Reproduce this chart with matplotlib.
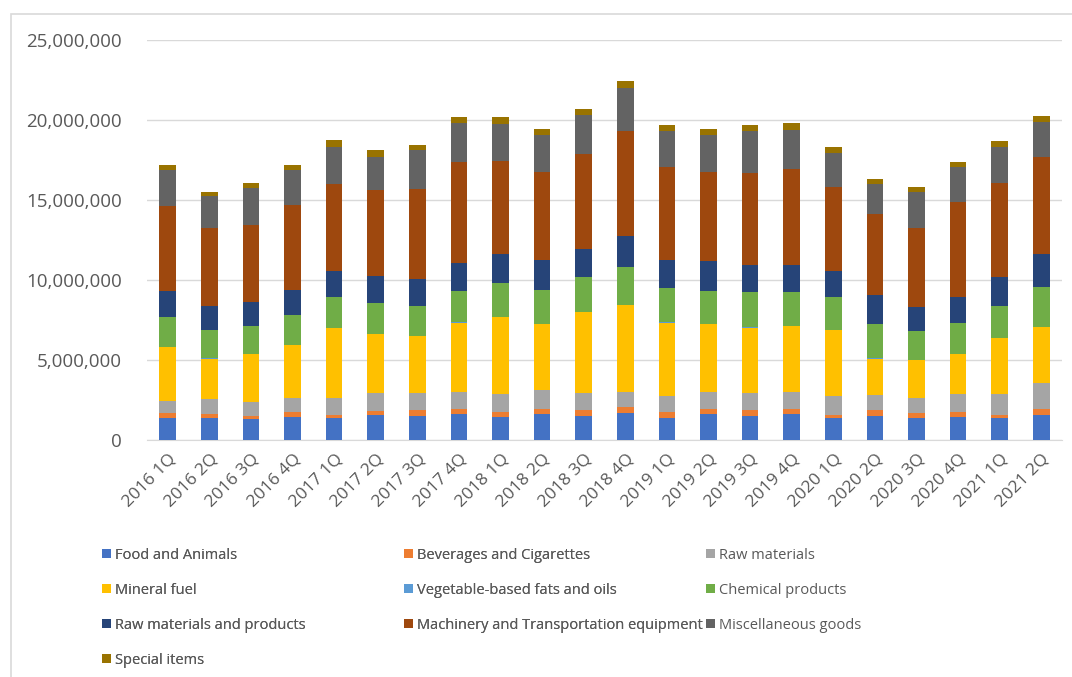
import numpy as np
import matplotlib
matplotlib.use('Agg')
import matplotlib.pyplot as plt
from matplotlib.patches import Rectangle
from matplotlib.ticker import FuncFormatter

# quarterly values, millions
quarters = ['2016 1Q', '2016 2Q', '2016 3Q', '2016 4Q', '2017 1Q', '2017 2Q',
            '2017 3Q', '2017 4Q', '2018 1Q', '2018 2Q', '2018 3Q', '2018 4Q',
            '2019 1Q', '2019 2Q', '2019 3Q', '2019 4Q', '2020 1Q', '2020 2Q',
            '2020 3Q', '2020 4Q', '2021 1Q', '2021 2Q']

food = [1.35, 1.35, 1.31, 1.42, 1.35, 1.56, 1.52, 1.60, 1.42, 1.625, 1.52, 1.71,
        1.40, 1.625, 1.52, 1.60, 1.35, 1.52, 1.35, 1.46, 1.35, 1.56]
beverages = [0.32, 0.25, 0.21, 0.35, 0.21, 0.27, 0.35, 0.32, 0.35, 0.30, 0.35, 0.37,
             0.33, 0.30, 0.35, 0.32, 0.21, 0.35, 0.36, 0.31, 0.21, 0.36]
raw_materials = [0.79, 0.96, 0.88, 0.83, 1.04, 1.13, 1.08, 1.10, 1.10, 1.20, 1.08, 0.94,
                 1.02, 1.10, 1.08, 1.10, 1.19, 0.94, 0.94, 1.10, 1.31, 1.62]
mineral_fuel = [3.33, 2.52, 2.95, 3.34, 4.38, 3.64, 3.54, 4.31, 4.79, 4.10, 5.06, 5.42,
                4.58, 4.21, 4.08, 4.10, 4.125, 2.27, 2.35, 2.48, 3.48, 3.50]
veg_oils = [0.02] * 22
chemical = [1.88, 1.80, 1.77, 1.87, 1.92, 1.94, 1.875, 1.94, 2.16, 2.15, 2.15, 2.35,
            2.15, 2.04, 2.17, 2.08, 2.02, 2.15, 1.77, 1.94, 2.02, 2.48]
raw_products = [1.60, 1.46, 1.46, 1.52, 1.62, 1.71, 1.67, 1.77, 1.77, 1.875, 1.75, 1.92,
                1.77, 1.88, 1.73, 1.73, 1.62, 1.83, 1.52, 1.61, 1.79, 2.08]
machinery = [5.31, 4.90, 4.82, 5.36, 5.44, 5.33, 5.63, 6.29, 5.80, 5.50, 5.96, 6.60,
             5.77, 5.58, 5.73, 6.00, 5.27, 5.06, 4.94, 5.93, 5.875, 6.05]
misc_goods = [2.30, 1.98, 2.33, 2.19, 2.33, 2.09, 2.41, 2.46, 2.35, 2.29, 2.43, 2.67,
              2.29, 2.31, 2.64, 2.44, 2.13, 1.85, 2.23, 2.19, 2.23, 2.20]
special = [0.31, 0.27, 0.31, 0.31, 0.44, 0.41, 0.34, 0.36, 0.40, 0.38, 0.36, 0.46,
           0.36, 0.38, 0.38, 0.41, 0.35, 0.33, 0.33, 0.33, 0.38, 0.36]

series = [
    ('Food and Animals', food, '#4472C4'),
    ('Beverages and Cigarettes', beverages, '#ED7D31'),
    ('Raw materials', raw_materials, '#A5A5A5'),
    ('Mineral fuel', mineral_fuel, '#FFC000'),
    ('Vegetable-based fats and oils', veg_oils, '#5B9BD5'),
    ('Chemical products', chemical, '#70AD47'),
    ('Raw materials and products', raw_products, '#264478'),
    ('Machinery and Transportation equipment', machinery, '#9E480E'),
    ('Miscellaneous goods', misc_goods, '#636363'),
    ('Special items', special, '#997300'),
]

plt.rcParams['font.family'] = ['Open Sans', 'DejaVu Sans']
txt = '#595959'

fig = plt.figure(figsize=(10.72, 6.77), dpi=100)
ax = fig.add_axes([147 / 1072, 1 - 440 / 677, 915 / 1072, 400 / 677])

# light frame of the chart area
fig.patches.append(Rectangle((11 / 1072, -0.1), 1.2, 1 - 14 / 677 + 0.1,
                             transform=fig.transFigure, fill=False,
                             ec='#D9D9D9', lw=1.2, zorder=0))

x = np.arange(len(quarters))
bottom = np.zeros(len(quarters))
handles = []
for name, vals, col in series:
    v = np.array(vals) * 1e6
    b = ax.bar(x, v, 0.4, bottom=bottom, color=col, label=name, zorder=3)
    handles.append(b)
    bottom += v

ax.set_xlim(-0.5, len(quarters) - 0.5)
ax.set_ylim(0, 25e6)
ax.set_yticks(np.arange(0, 25e6 + 1, 5e6))
ax.yaxis.set_major_formatter(FuncFormatter(lambda v, p: f'{int(v):,}'))
ax.grid(axis='y', color='#D9D9D9', lw=1, zorder=0)
for s in ['top', 'right', 'left']:
    ax.spines[s].set_visible(False)
ax.spines['bottom'].set_color('#D9D9D9')
ax.tick_params(length=0, colors=txt)
ax.tick_params(axis='y', pad=18, labelsize=13.5)
ax.set_xticks(x)
ax.set_xticklabels(quarters, rotation=45, ha='right', rotation_mode='anchor')
ax.tick_params(axis='x', pad=8, labelsize=12.5)

# Excel style legend: three equal columns, filled row by row
col_x = [102 / 1072, 404 / 1072, 706 / 1072]
for c in range(3):
    idx = list(range(c, len(series), 3))
    leg = fig.legend([handles[i] for i in idx], [series[i][0] for i in idx],
                     loc='upper left', bbox_to_anchor=(col_x[c], 1 - 548 / 677),
                     frameon=False, fontsize=10.5, labelcolor=txt,
                     handlelength=0.6, handleheight=0.6, handletextpad=0.3,
                     labelspacing=1.37, borderpad=0, borderaxespad=0)
    if c < 2:
        fig.add_artist(leg)

fig.savefig('out.png', dpi=100)
